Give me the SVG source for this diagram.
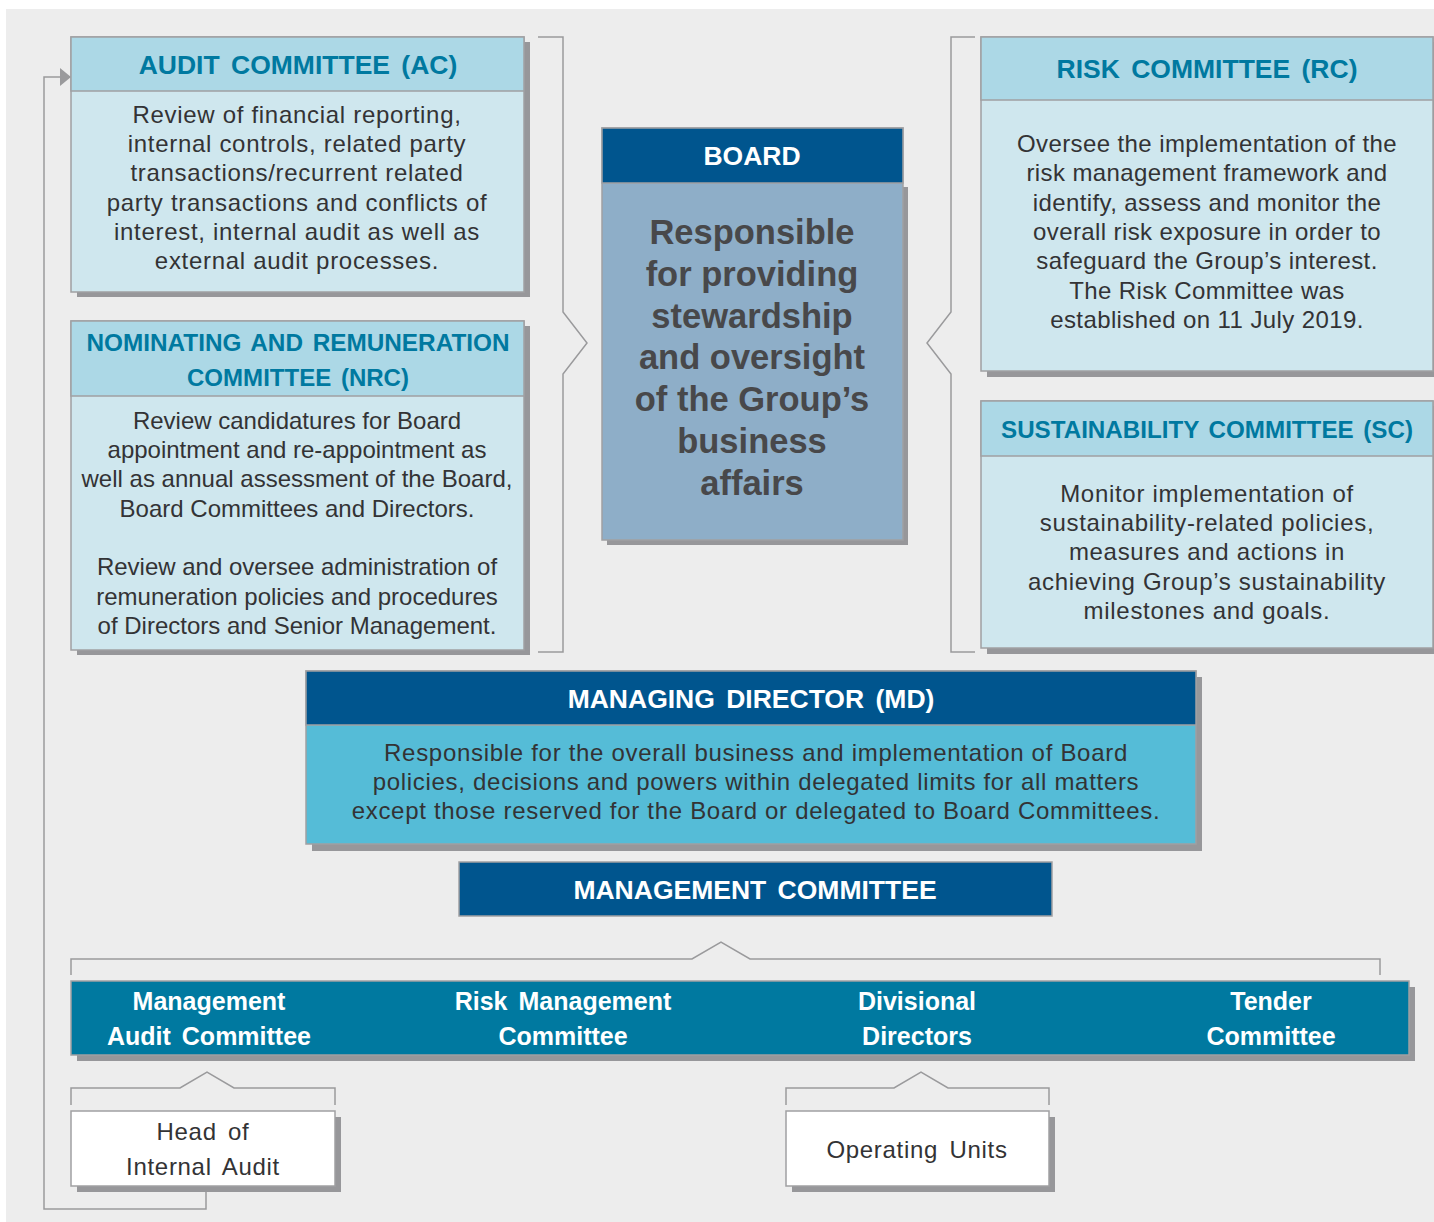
<svg xmlns="http://www.w3.org/2000/svg" width="1434" height="1222" viewBox="0 0 1434 1222">
  <style>
    .shadow { fill: #97979a; }
    .box { stroke: #a0a0a2; stroke-width: 1.5; }
    .hdr-light { fill: #acd8e6; }
    .body-light { fill: #cfe7ee; }
    .hdr-dark { fill: #00558e; }
    .bar { fill: #0079a0; }
    .white { fill: #ffffff; }
    .t-head { font-family: "Liberation Sans", Arial, sans-serif; font-weight: bold; font-size: 26.5px; fill: #0079a0; text-anchor: middle; word-spacing: 4px; }
    .t-head.narrow { font-size: 24.5px; word-spacing: 3px; }
    .t-head-w { font-family: "Liberation Sans", Arial, sans-serif; font-weight: bold; font-size: 26.5px; fill: #ffffff; text-anchor: middle; word-spacing: 4px; }
    .t-body { font-family: "Liberation Sans", Arial, sans-serif; font-size: 24px; letter-spacing: 0.7px; fill: #333335; text-anchor: middle; }
    .t-body.tight { letter-spacing: 0px; }
    .t-body.mid { letter-spacing: 0.4px; }
    .t-bar { font-family: "Liberation Sans", Arial, sans-serif; font-weight: bold; font-size: 25px; fill: #ffffff; text-anchor: middle; word-spacing: 4px; }
    .t-board { font-family: "Liberation Sans", Arial, sans-serif; font-weight: bold; font-size: 34.5px; fill: #48484a; text-anchor: middle; }
    .conn { fill: none; stroke: #9a9a9c; stroke-width: 1.5; }
  </style>
  <defs>
    <marker id="arrow" markerWidth="12" markerHeight="20" refX="11" refY="10" orient="auto" markerUnits="userSpaceOnUse">
      <path d="M0,1 L11,10 L0,19 Z" fill="#9a9a9c"/>
    </marker>
  </defs>

  <!-- page background -->
  <rect x="0" y="0" width="1434" height="1222" fill="#ffffff"/>
  <rect x="6" y="9" width="1428" height="1213" fill="#ededed"/>

  <!-- connectors and brackets -->
  <g id="connectors">
    <!-- bracket grouping AC and NRC towards Board -->
    <path class="conn" d="M538,37 H563 V312 L587,343 L563,374 V652 H538"/>
    <!-- bracket grouping RC and SC towards Board -->
    <path class="conn" d="M975,37 H951 V312 L927,343 L951,374 V652 H975"/>
    <!-- bracket under Management Committee -->
    <path class="conn" d="M71,975 V959 H692 L721,942 L750,959 H1380 V975"/>
    <!-- bracket under Management Audit Committee -->
    <path class="conn" d="M71,1105 V1088 H180 L207,1072 L234,1088 H335 V1105"/>
    <!-- bracket under Divisional Directors -->
    <path class="conn" d="M786,1105 V1088 H894 L921,1072 L948,1088 H1049 V1105"/>
    <!-- reporting line from Head of Internal Audit to Audit Committee -->
    <path class="conn" d="M206,1187 V1209 H44 V77 H71" marker-end="url(#arrow)"/>
  </g>

  <!-- Audit Committee -->
  <g id="audit-committee">
    <rect class="shadow" x="77" y="42" width="453" height="255"/>
    <rect class="box body-light" x="71" y="37" width="453" height="255"/>
    <rect class="box hdr-light" x="71" y="37" width="453" height="54"/>
    <text class="t-head" x="298" y="74">AUDIT COMMITTEE (AC)</text>
    <text class="t-body" x="297" y="123">Review of financial reporting,</text>
    <text class="t-body" x="297" y="152">internal controls, related party</text>
    <text class="t-body" x="297" y="181">transactions/recurrent related</text>
    <text class="t-body" x="297" y="211">party transactions and conflicts of</text>
    <text class="t-body" x="297" y="240">interest, internal audit as well as</text>
    <text class="t-body" x="297" y="269">external audit processes.</text>
  </g>

  <!-- Nominating and Remuneration Committee -->
  <g id="nrc">
    <rect class="shadow" x="77" y="326" width="453" height="329"/>
    <rect class="box body-light" x="71" y="321" width="453" height="329"/>
    <rect class="box hdr-light" x="71" y="321" width="453" height="75"/>
    <text class="t-head narrow" x="298" y="351" textLength="423" lengthAdjust="spacingAndGlyphs">NOMINATING AND REMUNERATION</text>
    <text class="t-head narrow" x="298" y="386" textLength="222" lengthAdjust="spacingAndGlyphs">COMMITTEE (NRC)</text>
    <text class="t-body tight" x="297" y="429">Review candidatures for Board</text>
    <text class="t-body tight" x="297" y="458">appointment and re-appointment as</text>
    <text class="t-body tight" x="297" y="487">well as annual assessment of the Board,</text>
    <text class="t-body tight" x="297" y="517">Board Committees and Directors.</text>
    <text class="t-body tight" x="297" y="575">Review and oversee administration of</text>
    <text class="t-body tight" x="297" y="605">remuneration policies and procedures</text>
    <text class="t-body tight" x="297" y="634">of Directors and Senior Management.</text>
  </g>

  <!-- Board -->
  <g id="board">
    <rect class="shadow" x="607" y="187" width="301" height="358"/>
    <rect class="box" x="602" y="128" width="301" height="412" fill="#8eaec8"/>
    <rect class="box hdr-dark" x="602" y="128" width="301" height="55"/>
    <text class="t-head-w" x="752" y="165">BOARD</text>
    <text class="t-board" x="752" y="244">Responsible</text>
    <text class="t-board" x="752" y="286">for providing</text>
    <text class="t-board" x="752" y="328">stewardship</text>
    <text class="t-board" x="752" y="369">and oversight</text>
    <text class="t-board" x="752" y="411">of the Group’s</text>
    <text class="t-board" x="752" y="453">business</text>
    <text class="t-board" x="752" y="495">affairs</text>
  </g>

  <!-- Risk Committee -->
  <g id="risk-committee">
    <rect class="shadow" x="987" y="42" width="453" height="335"/>
    <rect class="box body-light" x="981" y="37" width="452" height="334"/>
    <rect class="box hdr-light" x="981" y="37" width="452" height="63"/>
    <text class="t-head" x="1207" y="78">RISK COMMITTEE (RC)</text>
    <text class="t-body mid" x="1207" y="152">Oversee the implementation of the</text>
    <text class="t-body mid" x="1207" y="181">risk management framework and</text>
    <text class="t-body mid" x="1207" y="211">identify, assess and monitor the</text>
    <text class="t-body mid" x="1207" y="240">overall risk exposure in order to</text>
    <text class="t-body mid" x="1207" y="269">safeguard the Group’s interest.</text>
    <text class="t-body mid" x="1207" y="299">The Risk Committee was</text>
    <text class="t-body mid" x="1207" y="328">established on 11 July 2019.</text>
  </g>

  <!-- Sustainability Committee -->
  <g id="sustainability-committee">
    <rect class="shadow" x="987" y="406" width="453" height="248"/>
    <rect class="box body-light" x="981" y="401" width="452" height="247"/>
    <rect class="box hdr-light" x="981" y="401" width="452" height="55"/>
    <text class="t-head narrow" x="1207" y="438" textLength="412" lengthAdjust="spacingAndGlyphs">SUSTAINABILITY COMMITTEE (SC)</text>
    <text class="t-body" x="1207" y="502">Monitor implementation of</text>
    <text class="t-body" x="1207" y="531">sustainability-related policies,</text>
    <text class="t-body" x="1207" y="560">measures and actions in</text>
    <text class="t-body" x="1207" y="590">achieving Group’s sustainability</text>
    <text class="t-body" x="1207" y="619">milestones and goals.</text>
  </g>

  <!-- Managing Director -->
  <g id="managing-director">
    <rect class="shadow" x="312" y="677" width="890" height="174"/>
    <rect class="box" x="306" y="671" width="890" height="173" fill="#55bcd7"/>
    <rect class="box hdr-dark" x="306" y="671" width="890" height="54"/>
    <text class="t-head-w" x="751" y="708">MANAGING DIRECTOR (MD)</text>
    <text class="t-body" x="756" y="761">Responsible for the overall business and implementation of Board</text>
    <text class="t-body" x="756" y="790">policies, decisions and powers within delegated limits for all matters</text>
    <text class="t-body" x="756" y="819">except those reserved for the Board or delegated to Board Committees.</text>
  </g>

  <!-- Management Committee -->
  <g id="management-committee">
    <rect class="box hdr-dark" x="459" y="862" width="593" height="54"/>
    <text class="t-head-w" x="755" y="899">MANAGEMENT COMMITTEE</text>
  </g>

  <!-- Management Committee members -->
  <g id="committee-row">
    <rect class="shadow" x="77" y="987" width="1338" height="74"/>
    <rect class="box bar" x="71" y="981" width="1338" height="74"/>
  </g>
  <g id="management-audit-committee">
    <text class="t-bar" x="209" y="1010">Management</text>
    <text class="t-bar" x="209" y="1045">Audit Committee</text>
  </g>
  <g id="risk-management-committee">
    <text class="t-bar" x="563" y="1010">Risk Management</text>
    <text class="t-bar" x="563" y="1045">Committee</text>
  </g>
  <g id="divisional-directors">
    <text class="t-bar" x="917" y="1010">Divisional</text>
    <text class="t-bar" x="917" y="1045">Directors</text>
  </g>
  <g id="tender-committee">
    <text class="t-bar" x="1271" y="1010">Tender</text>
    <text class="t-bar" x="1271" y="1045">Committee</text>
  </g>

  <!-- Head of Internal Audit -->
  <g id="head-of-internal-audit">
    <rect class="shadow" x="77" y="1117" width="264" height="75"/>
    <rect class="box white" x="71" y="1111" width="264" height="75"/>
    <text class="t-body" x="203" y="1140" style="word-spacing:4px">Head of</text>
    <text class="t-body" x="203" y="1175" style="word-spacing:4px">Internal Audit</text>
  </g>

  <!-- Operating Units -->
  <g id="operating-units">
    <rect class="shadow" x="792" y="1117" width="263" height="75"/>
    <rect class="box white" x="786" y="1111" width="263" height="75"/>
    <text class="t-body" x="917" y="1158" style="word-spacing:4px">Operating Units</text>
  </g>
</svg>
